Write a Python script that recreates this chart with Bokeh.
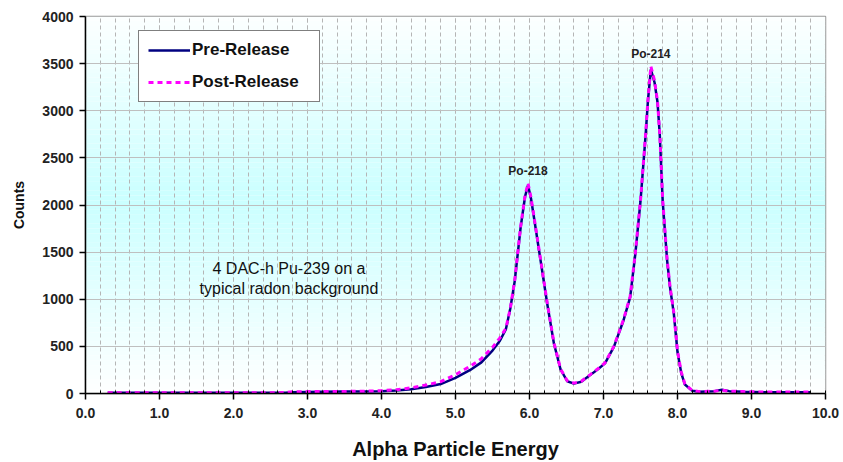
from bokeh.plotting import figure
from bokeh.models import (Range1d, Legend, LegendItem, Label, SingleIntervalTicker,
                          NumeralTickFormatter)
from bokeh.core.properties import value
from bokeh.embed import file_html
from bokeh.resources import INLINE

# Alpha spectrum, Post-Release (MeV, counts)
post_energy = [0.3, 0.5, 1.0, 1.5, 2.0, 2.5, 2.7, 2.8, 3.0, 3.2, 3.5, 3.8, 4.0, 4.2, 4.4,
               4.6, 4.8, 5.0, 5.2, 5.35, 5.5, 5.6, 5.68, 5.74, 5.8, 5.88, 5.94, 5.98,
               6.02, 6.06, 6.15, 6.24, 6.33, 6.42, 6.51, 6.6, 6.7, 6.82, 6.92, 7.02,
               7.14, 7.27, 7.36, 7.43, 7.5, 7.57, 7.6, 7.64, 7.69, 7.73, 7.76, 7.8,
               7.86, 7.9, 7.95, 8.0, 8.05, 8.1, 8.2, 8.3, 8.5, 8.6, 8.7, 8.9, 9.2,
               9.5, 9.8]
post_counts = [8, 8, 8, 8, 8, 8, 10, 18, 20, 20, 22, 25, 30, 40, 60,
               90, 125, 200, 290, 370, 490, 590, 690, 900, 1200, 1770, 2100, 2230,
               2080, 1880, 1420, 960, 540, 260, 135, 110, 130, 200, 260, 325,
               500, 783, 1030, 1490, 2050, 2760, 3110, 3470, 3320, 3100, 2760, 2050,
               1420, 1130, 860, 450, 230, 100, 30, 20, 25, 35, 25, 20, 15,
               15, 15]

# Alpha spectrum, Pre-Release (MeV, counts)
pre_energy = post_energy
pre_counts = [8, 8, 8, 8, 8, 8, 8, 12, 15, 18, 20, 22, 25, 32, 45,
              70, 100, 165, 250, 330, 455, 560, 680, 900, 1190, 1760, 2090, 2210,
              2070, 1870, 1410, 950, 530, 255, 130, 105, 125, 195, 255, 320,
              495, 775, 1020, 1480, 2040, 2750, 3100, 3440, 3300, 3090, 2750, 2040,
              1410, 1120, 850, 440, 220, 95, 28, 18, 25, 40, 25, 18, 12,
              12, 12]

peak_names = ["Po-218", "Po-214"]
peak_energy = [5.98, 7.64]
peak_counts = [2230, 3470]

x_ticks_major = 1.0
y_ticks_major = 500

p = figure(width=843, height=462, output_backend="svg", toolbar_location=None,
           x_range=Range1d(0, 10), y_range=Range1d(0, 4000),
           min_border_left=85, min_border_right=18, min_border_top=16,
           min_border_bottom=68, background_fill_color="white",
           border_fill_color="white")

# vertical white -> cyan -> white background band
n_strips = 80
lo, hi = 0, 4000
step = (hi - lo) / n_strips
bottoms, tops, colors = [], [], []
for i in range(n_strips):
    b = lo + i * step
    mid = b + step / 2
    t = 1 - abs(mid - 2050) / 2050
    t = max(0.0, min(1.0, t))
    r = int(round(255 - (255 - 202) * t))
    bottoms.append(b)
    tops.append(b + step + 1)
    colors.append("#%02x%02x%02x" % (r, 255, 255))
p.quad(left=0, right=10, bottom=bottoms, top=tops, fill_color=colors,
       line_color=None, level="image")

# axes
font = "Liberation Sans"
p.xaxis.ticker = SingleIntervalTicker(interval=x_ticks_major, num_minor_ticks=5)
p.yaxis.ticker = SingleIntervalTicker(interval=y_ticks_major, num_minor_ticks=0)
p.xaxis.formatter = NumeralTickFormatter(format="0.0")
for ax in (p.xaxis, p.yaxis):
    ax.axis_line_color = "black"
    ax.axis_line_width = 1.5
    ax.major_tick_line_color = "black"
    ax.major_tick_line_width = 1.5
    ax.major_tick_out = 6
    ax.major_tick_in = 0
    ax.major_label_text_font = font
    ax.major_label_text_font_style = "bold"
    ax.major_label_text_font_size = "14px"
    ax.major_label_text_color = "#222222"
    ax.axis_label_text_font = font
    ax.axis_label_text_font_style = "bold"
    ax.axis_label_text_color = "#111111"
p.xaxis.minor_tick_line_color = "black"
p.xaxis.minor_tick_in = 3
p.xaxis.minor_tick_out = 0
p.yaxis.minor_tick_line_color = None
p.xaxis.axis_label = "Alpha Particle Energy"
p.xaxis.axis_label_text_font_size = "20px"
p.xaxis.axis_label_standoff = 17
p.xaxis.major_label_standoff = 8
p.yaxis.axis_label = "Counts"
p.yaxis.axis_label_text_font_size = "14px"
p.yaxis.axis_label_standoff = 12
p.yaxis.major_label_standoff = 6

# grid
p.ygrid.grid_line_color = "#bfbfbf"
p.ygrid.grid_line_width = 1.2
p.xgrid.grid_line_color = "#b5b5b5"
p.xgrid.grid_line_dash = "4 3"
p.xgrid.minor_grid_line_color = "#b5b5b5"
p.xgrid.minor_grid_line_dash = "4 3"
p.outline_line_color = "#999999"
p.outline_line_width = 1.5

# spectra
pre = p.line(pre_energy, pre_counts, line_color="#000080", line_width=2.5)
post = p.line(post_energy, post_counts, line_color="#ff00ff", line_width=3,
              line_dash="5 4")

# peak labels
p.text(x=peak_energy, y=peak_counts, text=peak_names, y_offset=-5,
       text_align="center", text_baseline="bottom",
       text_font=value(font), text_font_style="bold", text_font_size="12px",
       text_color="#222222")

# source description
p.add_layout(Label(x=2.75, y=1222, text="4 DAC-h Pu-239 on a\ntypical radon background",
                   text_align="center", text_baseline="middle",
                   text_font=font, text_font_size="16px", text_color="#111111",
                   text_line_height=1.15))

legend = Legend(items=[LegendItem(label="Pre-Release", renderers=[pre]),
                       LegendItem(label="Post-Release", renderers=[post])],
                location=(53, 291))
legend.border_line_color = "black"
legend.border_line_width = 1.5
legend.background_fill_color = "white"
legend.background_fill_alpha = 1
legend.label_text_font = font
legend.label_text_font_style = "bold"
legend.label_text_font_size = "17px"
legend.label_text_color = "#111111"
legend.glyph_width = 42
legend.label_standoff = 2
legend.label_width = 118
legend.spacing = 12
legend.padding = 9
legend.margin = 0
p.add_layout(legend)

open("out.html", "w").write(file_html(p, INLINE))
